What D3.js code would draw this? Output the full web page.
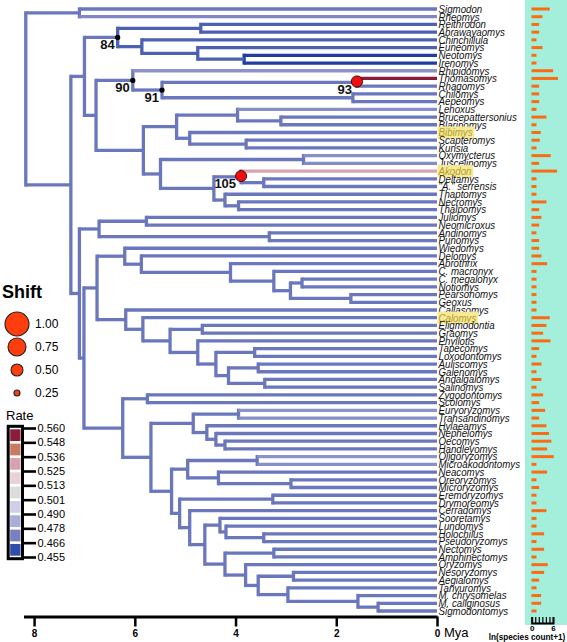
<!DOCTYPE html>
<html><head><meta charset="utf-8">
<script src="https://cdn.jsdelivr.net/npm/d3@7"></script>
<style>
body{margin:0;background:#fff;}
svg{display:block;font-family:"Liberation Sans",Arial,sans-serif;}
</style></head><body>
<svg id="chart" width="567" height="642"></svg>
<script>
// ---------------- data ----------------
const tips = ["Sigmodon","Rheomys","Reithrodon","Abrawayaomys","Chinchillula","Euneomys","Neotomys","Irenomys",
"Rhipidomys","Thomasomys","Rhagomys","Chilomys","Aepeomys","Lenoxus","Brucepattersonius","Blarinomys","Bibimys",
"Scapteromys","Kunsia","Oxymycterus","Juscelinomys","Akodon","Deltamys","\"A.\" serrensis","Thaptomys","Necromys",
"Thalpomys","Juliomys","Neomicroxus","Andinomys","Punomys","Wiedomys","Delomys","Abrothrix","C. macronyx",
"C. megalonyx","Notiomys","Pearsonomys","Geoxus","Callasomys","Calomys","Eligmodontia","Graomys","Phyllotis",
"Tapecomys","Loxodontomys","Auliscomys","Galenomys","Andalgalomys","Salinomys","Zygodontomys","Scolomys",
"Euryoryzomys","Transandinomys","Hylaeamys","Nephelomys","Oecomys","Handleyomys","Oligoryzomys","Microakodontomys",
"Neacomys","Oreoryzomys","Microryzomys","Eremoryzomys","Drymoreomys","Cerradomys","Sooretamys","Lundomys",
"Holochilus","Pseudoryzomys","Nectomys","Amphinectomys","Oryzomys","Nesoryzomys","Aegialomys","Tanyuromys",
"M. chrysomelas","M. caliginosus","Sigmodontomys"];

// ln(species count + 1), one per tip
const lnSpeciesCount = [2.53,1.52,1.06,1.06,0.69,1.52,0.69,0.69,
3.00,3.69,1.06,1.06,1.06,0.69,2.07,0.69,1.29,
1.15,0.69,2.67,1.06,3.55,0.69,0.69,0.69,2.07,
1.06,1.38,1.06,0.69,1.06,1.06,1.38,2.17,0.69,
0.69,0.69,0.69,0.69,0.69,2.53,2.07,1.61,2.63,
1.06,0.69,1.38,0.69,1.38,0.69,1.61,1.06,
1.89,1.06,2.07,2.44,2.76,2.17,3.09,0.69,
2.17,0.69,1.06,0.69,0.69,2.07,0.69,0.69,
1.75,0.69,1.75,0.69,2.26,1.75,1.06,0.69,
1.34,1.34,0.69];

// topology with node ages (Mya); "#name" marks named nodes
const treeNewick = `((Sigmodon,Rheomys)7.10,
((((Reithrodon,Abrawayaomys)4.69,(Chinchillula,(Euneomys,(Neotomys,Irenomys)3.83#neo)4.75)5.86)6.34#84,
((Rhipidomys,((Thomasomys,Rhagomys)1.59#93,(Chilomys,Aepeomys)1.67)5.46#91)6.04#90,
(((Lenoxus,(Brucepattersonius,Blarinomys)3.10)3.96,(Bibimys,(Scapteromys,Kunsia)3.79)4.91)5.17,
((Oxymycterus,Juscelinomys)2.65,((Akodon,(Deltamys,"A." serrensis)3.44)3.89#105,(Thaptomys,(Necromys,Thalpomys)3.94)4.21)4.43)5.49)5.83)6.77)7.00,
(((Juliomys,Neomicroxus)5.77,(Andinomys,Punomys)3.33)6.71,
(((Wiedomys,(Delomys,(Abrothrix,(C. macronyx,((C. megalonyx,Notiomys)2.68,(Pearsonomys,Geoxus)1.71)2.91)3.24)4.10)5.87)6.20,
(Callasomys,(Calomys,((Eligmodontia,Graomys)4.66,(Phyllotis,((Tapecomys,Loxodontomys)3.62,((Auliscomys,Galenomys)3.55,(Andalgalomys,Salinomys)3.42)4.14)4.39)4.75)5.30)5.84)6.18)6.75,
((Zygodontomys,Scolomys)5.75,
(((Euryoryzomys,Transandinomys)3.94,(Hylaeamys,(Nephelomys,(Oecomys,Handleyomys)4.21)4.39)4.57)4.84,
(((Oligoryzomys,Microakodontomys)3.57,(Neacomys,(Oreoryzomys,Microryzomys)2.90)4.34)4.95,
((Eremoryzomys,Drymoreomys)3.26,(Cerradomys,((Sooretamys,(Lundomys,(Holochilus,Pseudoryzomys)3.44)4.19)4.31,((Nectomys,Amphinectomys)3.24,(Oryzomys,((Nesoryzomys,Aegialomys)2.85,(Tanyuromys,(M. chrysomelas,(M. caliginosus,Sigmodontomys)1.17)1.57)2.96)3.55)3.80)4.21)4.61)4.91)5.11)5.27)5.68)6.24)7.01)7.10)7.27)8.165;`;

const axisTicks = [8,6,4,2,0];
const barTicks = [0,1,2,3,4,5,6];
const barTickLabels = [0,6];
const nodeLabels = ["84","90","91","93","105"];
const dotNodes = ["84","90","91"];
const shiftNodes = ["93","105"];
const shiftValues = [0.47,0.46];
const legendShifts = [1.00,0.75,0.50,0.25];
const rateTicks = ["0.560","0.548","0.536","0.525","0.513","0.501","0.490","0.478","0.466","0.455"];
const rateCellColors = ["#8c1a3a","#c97a60","#d6a2ad","#e8d2d5","#dcdcdc","#cdd0e6","#a9aed8","#7880c0","#2f4fa8"];
const defaultRate = 0.470;
const branchRateNames = ["Thomasomys","Akodon","Rheomys","Rhipidomys","Lenoxus","Oxymycterus","Juscelinomys","Euryoryzomys","Transandinomys","Oligoryzomys","Microakodontomys"];
const branchRateValues = [0.556,0.530,0.474,0.477,0.476,0.476,0.475,0.477,0.476,0.477,0.476];
const cladeRateNames = ["84","neo"];
const cladeRateValues = [0.465,0.456];
const highlighted = ["Bibimys","Akodon","Calomys"];

// ---------------- parse ----------------
function parseNewick(str){
  const s = str.replace(/\s*\n\s*/g,"");
  let i = 0;
  function node(){
    const n = {};
    if (s[i] === "("){
      n.children = [];
      i++;
      n.children.push(node());
      while (s[i] === ","){ i++; n.children.push(node()); }
      i++; // ')'
    }
    let lab = "";
    while (i < s.length && !",();".includes(s[i])) lab += s[i++];
    lab = lab.trim();
    if (n.children){
      const parts = lab.split("#");
      n.age = +parts[0];
      n.name = parts[1] || null;
    } else { n.name = lab; n.age = 0; }
    return n;
  }
  return node();
}

const svg = d3.select("#chart");
const xScale = d3.scaleLinear().domain([8.21,0]).range([23.5,437]);
const yTip = d3.scalePoint().domain(tips).range([9,611]);

const root = d3.hierarchy(parseNewick(treeNewick));
root.eachAfter(n=>{
  n.px = xScale(n.data.age);
  n.py = n.children ? (n.children[0].py + n.children[n.children.length-1].py)/2 : yTip(n.data.name);
});
root.eachBefore(n=>{
  const inh = n.parent ? n.parent.inner : defaultRate;
  const bi = branchRateNames.indexOf(n.data.name);
  n.rate = bi >= 0 ? branchRateValues[bi] : inh;
  const ci = cladeRateNames.indexOf(n.data.name);
  n.inner = ci >= 0 ? cladeRateValues[ci] : inh;
});

const rateNum = rateTicks.map(Number);
const mids = rateNum.slice(0,-1).map((v,i)=>(v+rateNum[i+1])/2);
const rateColor = d3.scaleLinear()
  .domain([rateNum[rateNum.length-1]].concat(mids.slice().reverse()))
  .range(["#1c3c9e"].concat(rateCellColors.slice().reverse()))
  .clamp(true);

// ---------------- bars panel background ----------------
svg.append("rect").attr("x",525).attr("y",0).attr("width",42).attr("height",625).attr("fill","#a4eedc");

// ---------------- tree ----------------
const lw = 3.3;
const gTree = svg.append("g");
const internal = root.descendants().filter(n=>n.children);
gTree.selectAll("line.v").data(internal).join("line")
  .attr("x1",d=>d.px).attr("x2",d=>d.px)
  .attr("y1",d=>d.children[0].py).attr("y2",d=>d.children[d.children.length-1].py)
  .attr("stroke",d=>rateColor(d.inner)).attr("stroke-width",lw).attr("stroke-linecap","square");
const branches = root.descendants().filter(n=>n.parent).sort((a,b)=>Math.abs(a.rate-0.47)-Math.abs(b.rate-0.47));
gTree.selectAll("line.h").data(branches).join("line")
  .attr("x1",d=>d.parent.px).attr("x2",d=>d.px)
  .attr("y1",d=>d.py).attr("y2",d=>d.py)
  .attr("stroke",d=>rateColor(d.rate)).attr("stroke-width",lw);

const byName = name => root.descendants().find(n=>n.data.name===name);
// dots
svg.selectAll("circle.dot").data(dotNodes.map(byName)).join("circle")
  .attr("cx",d=>d.px).attr("cy",d=>d.py).attr("r",2.6).attr("fill","#000");
// shift circles
const rShift = d3.scaleLinear().domain([0,1]).range([0,12]);
svg.selectAll("circle.shift").data(shiftNodes.map((s,i)=>({n:byName(s),v:shiftValues[i]}))).join("circle")
  .attr("cx",d=>d.n.px).attr("cy",d=>d.n.py-0.8).attr("r",d=>rShift(d.v))
  .attr("fill","#f01010").attr("stroke","#300").attr("stroke-width",0.9);
// node labels
svg.selectAll("text.nl").data(nodeLabels.map(byName)).join("text")
  .attr("x",d=>d.px - (shiftNodes.includes(d.data.name)?5:3))
  .attr("y",d=>d.py+11.5)
  .attr("text-anchor","end").attr("font-weight","bold").attr("font-size",13).attr("fill","#111")
  .text(d=>d.data.name);

// ---------------- tip labels ----------------
const gTips = svg.append("g");
const tipG = gTips.selectAll("g").data(tips).join("g")
  .attr("transform",d=>`translate(438.5,${yTip(d)+3.8}) scale(0.9,1)`);
tipG.each(function(d){
  const g = d3.select(this);
  const t = g.append("text").attr("font-size",10.8).attr("font-style","italic")
    .attr("fill",highlighted.includes(d)?"#b39b2e":"#111").text(d);
  if (highlighted.includes(d)){
    const w = t.node().getComputedTextLength();
    g.insert("rect","text").attr("x",-1).attr("y",-9.8).attr("width",w+3).attr("height",12.2).attr("fill","#f6ea96");
  }
});

// ---------------- bars ----------------
const barScale = d3.scaleLinear().domain([0,1]).range([0,7.2]);
svg.selectAll("rect.bar").data(tips).join("rect")
  .attr("x",531.5).attr("y",d=>yTip(d)-1.5)
  .attr("width",(d,i)=>barScale(lnSpeciesCount[i])).attr("height",3).attr("fill","#fa6b14");

const combScale = d3.scaleLinear().domain([0,6]).range([531.7,553]);
const comb = svg.append("g").attr("transform","translate(0,623)")
  .call(d3.axisBottom(combScale).tickValues(barTicks).tickSize(-6).tickPadding(2)
    .tickFormat(d=>barTickLabels.includes(d)?d:""));
comb.select(".domain").attr("stroke-width",2);
comb.selectAll(".tick line").attr("stroke-width",1.2);
comb.selectAll("text").attr("font-size",8).attr("font-weight","bold").attr("font-family","Liberation Sans, Arial, sans-serif");
svg.append("text").attr("x",527).attr("y",640).attr("text-anchor","middle")
  .attr("font-size",8.2).attr("font-weight","bold").text("ln(species count+1)");

// ---------------- time axis ----------------
const ax = svg.append("g").attr("transform","translate(0,616.5)")
  .call(d3.axisBottom(xScale).tickValues(axisTicks).tickSize(10).tickSizeOuter(0).tickPadding(3).tickFormat(d3.format("d")));
ax.select(".domain").attr("stroke-width",3);
ax.selectAll(".tick line").attr("stroke-width",2.5);
ax.selectAll("text").attr("font-size",10).attr("font-weight","bold").attr("font-family","Liberation Sans, Arial, sans-serif");
svg.append("text").attr("x",444).attr("y",636.5).attr("font-size",13).text("Mya");

// ---------------- shift legend ----------------
svg.append("text").attr("x",2).attr("y",298).attr("font-size",18).attr("font-weight","bold").text("Shift");
const lg = svg.selectAll("g.ls").data(legendShifts).join("g")
  .attr("transform",(d,i)=>`translate(17,${324+i*23})`);
lg.append("circle").attr("r",d=>rShift(d)).attr("fill","#ff3d0d").attr("stroke","#222").attr("stroke-width",1.1);
lg.append("text").attr("x",18).attr("dy","0.36em").attr("font-size",12).text(d=>d3.format(".2f")(d));

// ---------------- rate legend ----------------
svg.append("text").attr("x",6).attr("y",420).attr("font-size",13).text("Rate");
const yR = d3.scalePoint().domain(rateTicks).range([428,557]);
svg.append("rect").attr("x",8.2).attr("y",426.3).attr("width",14.3).attr("height",132.4)
  .attr("fill","#fff").attr("stroke","#000").attr("stroke-width",3);
svg.selectAll("rect.cell").data(rateCellColors).join("rect")
  .attr("x",10.2).attr("width",10.3)
  .attr("y",(d,i)=>yR(rateTicks[i])+1.3)
  .attr("height",(d,i)=>yR(rateTicks[i+1])-yR(rateTicks[i])-2.6)
  .attr("fill",d=>d);
const rax = svg.append("g").attr("transform","translate(23.5,0)")
  .call(d3.axisRight(yR).tickSize(12.5).tickPadding(1.5));
rax.select(".domain").remove();
rax.selectAll(".tick line").attr("stroke-width",2.6);
rax.selectAll("text").attr("font-size",11).attr("font-family","Liberation Sans, Arial, sans-serif");
</script>
</body></html>
